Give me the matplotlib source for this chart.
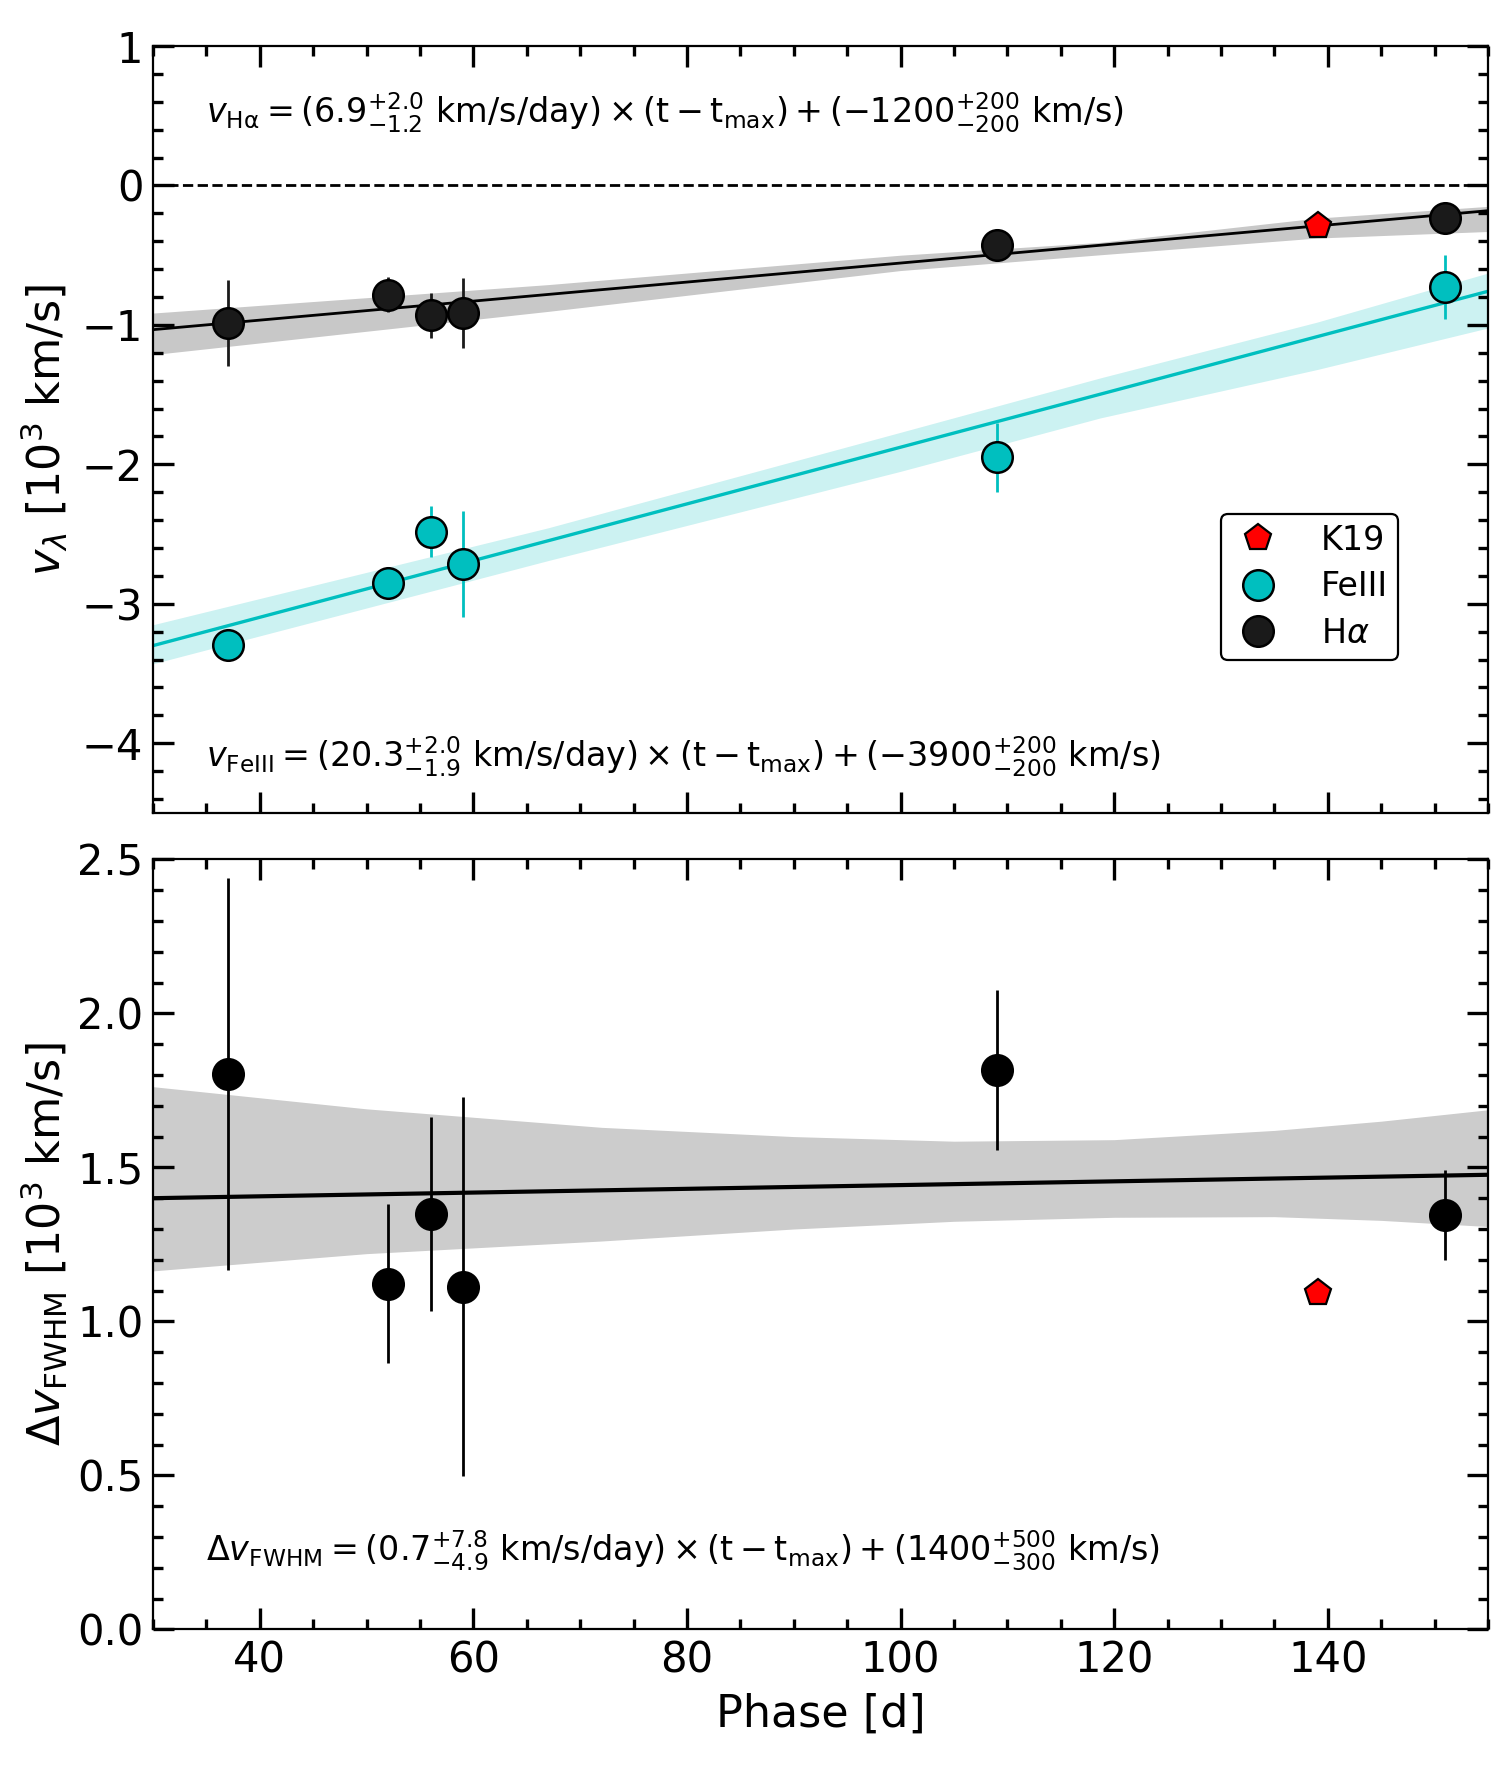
import matplotlib
matplotlib.use("Agg")
import matplotlib.pyplot as plt
from matplotlib.lines import Line2D
from matplotlib.ticker import MultipleLocator, FormatStrFormatter

# phases of the spectra [d]
phase = [37, 52, 56, 59, 109, 151]

# H-alpha velocities [10^3 km/s]
ha_vel = [-0.986, -0.783, -0.931, -0.915, -0.43, -0.234]
ha_err = [0.31, 0.128, 0.16, 0.25, 0.05, 0.05]

# FeIII velocities [10^3 km/s]
fe_vel = [-3.295, -2.853, -2.483, -2.712, -1.95, -0.728]
fe_err = [0.10, 0.10, 0.185, 0.38, 0.25, 0.227]

# FWHM [10^3 km/s]
fwhm = [1.803, 1.122, 1.348, 1.113, 1.815, 1.346]
fwhm_err = [0.636, 0.258, 0.315, 0.615, 0.26, 0.147]

# K19 comparison point
k19_phase = [139.1]
k19_vel = [-0.294]
k19_fwhm = [1.091]

# fitted lines and confidence bands
fit_x = [30, 155]
ha_fit = [-1.034, -0.181]
fe_fit = [-3.30, -0.759]
fwhm_fit = [1.400, 1.476]

band_x = [30, 67, 100, 118.7, 139, 155]
ha_hi = [-0.915, -0.711, -0.50, -0.408, -0.234, -0.150]
ha_lo = [-1.213, -0.903, -0.61, -0.497, -0.377, -0.330]
fe_hi = [-3.15, -2.455, -1.77, -1.38, -0.98, -0.628]
fe_lo = [-3.43, -2.69, -2.05, -1.667, -1.32, -1.022]

fwhm_band_x = [30, 50, 72, 90, 105, 120, 135, 145, 155]
fwhm_hi = [1.762, 1.69, 1.630, 1.60, 1.585, 1.59, 1.62, 1.65, 1.687]
fwhm_lo = [1.164, 1.22, 1.261, 1.30, 1.325, 1.338, 1.34, 1.328, 1.308]

plt.rcParams['font.family'] = 'DejaVu Sans'
plt.rcParams['mathtext.fontset'] = 'dejavusans'

fig = plt.figure(figsize=(7.56, 8.85), dpi=200)
ax1 = fig.add_axes([0.1012, 0.5407, 0.8829, 0.4333])
ax2 = fig.add_axes([0.1012, 0.0794, 0.8829, 0.4351])

ms = 11
cyan = '#00bfbf'
dark = '#1a1a1a'

# ---- top panel: velocities ----
ax1.axhline(0, color='k', ls='--', lw=1.0, zorder=1)
ax1.fill_between(band_x, ha_lo, ha_hi, color='#c8c8c8', lw=0, zorder=1)
ax1.fill_between(band_x, fe_lo, fe_hi, color=cyan, alpha=0.2, lw=0, zorder=1)
ax1.plot(fit_x, ha_fit, color='k', lw=1.0, zorder=2)
ax1.plot(fit_x, fe_fit, color=cyan, lw=1.2, zorder=2)

ax1.errorbar(phase, fe_vel, yerr=fe_err, fmt='o', ms=ms, mfc=cyan, mec='k',
             mew=0.9, ecolor=cyan, elinewidth=1.0, capsize=0, zorder=3)
ax1.errorbar(phase, ha_vel, yerr=ha_err, fmt='o', ms=ms, mfc=dark, mec='k',
             mew=0.9, ecolor=dark, elinewidth=1.0, capsize=0, zorder=3)
ax1.plot(k19_phase, k19_vel, 'p', ms=10, mfc='red', mec='k', mew=0.8, zorder=4)

handles = [
    Line2D([], [], ls='none', marker='p', ms=10, mfc='red', mec='k', mew=0.8),
    Line2D([], [], ls='none', marker='o', ms=ms, mfc=cyan, mec='k', mew=0.9),
    Line2D([], [], ls='none', marker='o', ms=ms, mfc=dark, mec='k', mew=0.9),
]
leg = ax1.legend(handles, ['K19', 'FeIII', r'H$\alpha$'],
                 loc='upper left', bbox_to_anchor=(0.800, 0.390),
                 borderaxespad=0, fontsize=12,
                 frameon=True, fancybox=True, edgecolor='k', framealpha=1,
                 handletextpad=1.1, borderpad=0.3, labelspacing=0.4,
                 handlelength=1.6)
leg.get_frame().set_linewidth(0.8)

ax1.set_xlim(30, 155)
ax1.set_ylim(-4.5, 1)
ax1.yaxis.set_major_locator(MultipleLocator(1))
ax1.yaxis.set_minor_locator(MultipleLocator(0.2))
ax1.set_ylabel(r'$v_\lambda$ [10$^3$ km/s]', fontsize=16)
ax1.tick_params(labelbottom=False)

ax1.text(0.040, 0.913,
         r'$v_{\mathrm{H\alpha}} = (6.9^{+2.0}_{-1.2}\ \mathrm{km/s/day}) \times (\mathrm{t} - \mathrm{t_{max}}) + (-1200^{+200}_{-200}\ \mathrm{km/s})$',
         transform=ax1.transAxes, fontsize=12, va='center', ha='left')
ax1.text(0.040, 0.0735,
         r'$v_{\mathrm{FeIII}} = (20.3^{+2.0}_{-1.9}\ \mathrm{km/s/day}) \times (\mathrm{t} - \mathrm{t_{max}}) + (-3900^{+200}_{-200}\ \mathrm{km/s})$',
         transform=ax1.transAxes, fontsize=12, va='center', ha='left')

# ---- bottom panel: FWHM ----
ax2.fill_between(fwhm_band_x, fwhm_lo, fwhm_hi, color='#cccccc', lw=0, zorder=1)
ax2.plot(fit_x, fwhm_fit, color='k', lw=1.5, zorder=2)
ax2.errorbar(phase, fwhm, yerr=fwhm_err, fmt='o', ms=ms, mfc='k', mec='k',
             mew=0.9, ecolor='k', elinewidth=1.0, capsize=0, zorder=3)
ax2.plot(k19_phase, k19_fwhm, 'p', ms=10, mfc='red', mec='k', mew=0.8, zorder=4)

ax2.set_xlim(30, 155)
ax2.set_ylim(0, 2.5)
ax2.yaxis.set_major_locator(MultipleLocator(0.5))
ax2.yaxis.set_minor_locator(MultipleLocator(0.1))
ax2.yaxis.set_major_formatter(FormatStrFormatter('%.1f'))
ax2.set_xlabel('Phase [d]', fontsize=16)
ax2.set_ylabel(r'$\Delta v_{\mathrm{FWHM}}$ [10$^3$ km/s]', fontsize=16)

ax2.text(0.040, 0.1027,
         r'$\Delta v_{\mathrm{FWHM}} = (0.7^{+7.8}_{-4.9}\ \mathrm{km/s/day}) \times (\mathrm{t} - \mathrm{t_{max}}) + (1400^{+500}_{-300}\ \mathrm{km/s})$',
         transform=ax2.transAxes, fontsize=12, va='center', ha='left')

for ax in (ax1, ax2):
    ax.xaxis.set_major_locator(MultipleLocator(20))
    ax.xaxis.set_minor_locator(MultipleLocator(5))
    ax.tick_params(which='both', direction='in', top=True, right=True,
                   labelsize=15, width=1.2)
    ax.tick_params(which='major', length=7.4)
    ax.tick_params(which='minor', length=3.6)
    for s in ax.spines.values():
        s.set_linewidth(0.8)
ax1.yaxis.set_label_coords(-0.062, 0.5)
ax2.yaxis.set_label_coords(-0.062, 0.5)

fig.savefig('out.png', dpi=200)
